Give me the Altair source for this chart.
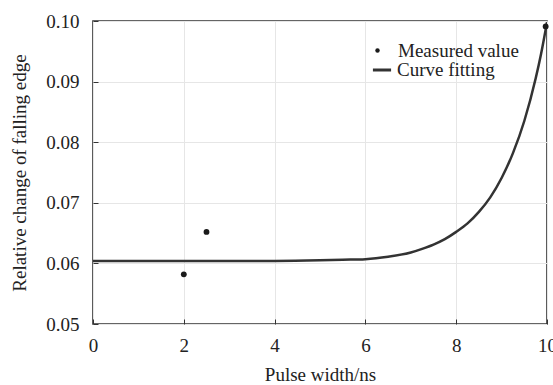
import altair as alt
import pandas as pd

# Measured values
meas_x = [2.0, 2.5, 9.97]
meas_y = [0.0582, 0.0652, 0.0991]

# Fitted curve
fit_x = [0, 1, 2, 3, 4, 5, 5.5, 6, 6.5, 7, 7.25, 7.5, 7.75, 8, 8.25, 8.5, 8.75, 9.0, 9.25, 9.5, 9.75, 9.87, 10]
fit_y = [0.0604, 0.0604, 0.0604, 0.0604, 0.0604, 0.0605, 0.0606, 0.0607, 0.0611, 0.0618, 0.0624, 0.0631,
         0.0640, 0.0652, 0.0666, 0.0685, 0.0709, 0.0741, 0.0782, 0.0835, 0.0905, 0.0946, 0.0998]

x_ticks = [0, 2, 4, 6, 8, 10]
y_ticks = [0.05, 0.06, 0.07, 0.08, 0.09, 0.10]

FONT = "Liberation Serif"
INK = "#222222"

meas = pd.DataFrame({"x": meas_x, "y": meas_y, "s": ["Measured value"] * len(meas_x)})
fit = pd.DataFrame({"x": fit_x, "y": fit_y, "s": ["Curve fitting"] * len(fit_x)})

xscale = alt.Scale(domain=[0, 10], nice=False, zero=False)
yscale = alt.Scale(domain=[0.05, 0.10], nice=False, zero=False)

x_main = alt.X("x:Q", scale=xscale, title="Pulse width/ns",
               axis=alt.Axis(values=x_ticks, format="d", grid=True, gridColor="#e6e6e6", gridWidth=1,
                             offset=-5, tickSize=5, tickColor="#333333", tickWidth=1,
                             domain=False, labelPadding=12, labelFont=FONT, labelFontSize=19,
                             labelColor=INK, titleFont=FONT, titleFontSize=19, titleFontWeight="normal",
                             titleColor=INK, titlePadding=10, labelFlush=False, labelBound=False))
y_main = alt.Y("y:Q", scale=yscale, title="Relative change of falling edge",
               axis=alt.Axis(values=y_ticks, format=".2f", grid=True, gridColor="#e6e6e6", gridWidth=1,
                             offset=-5, tickSize=5, tickColor="#333333", tickWidth=1,
                             domain=False, labelPadding=14, labelFont=FONT, labelFontSize=19,
                             labelColor=INK, titleFont=FONT, titleFontSize=19, titleFontWeight="normal",
                             titleColor=INK, titlePadding=16, labelFlush=False))

curve = alt.Chart(fit).mark_line(strokeWidth=2.5, clip=True, interpolate="monotone").encode(
    x=x_main,
    y=y_main,
    color=alt.Color("s:N", scale=alt.Scale(domain=["Curve fitting"], range=["#333333"]),
                    legend=alt.Legend(title=None, orient="none", legendX=278, legendY=38,
                                      labelFont=FONT, labelFontSize=19, labelColor=INK,
                                      symbolStrokeWidth=3, symbolSize=330, symbolType="stroke",
                                      labelOffset=4, padding=0)),
)

points = alt.Chart(meas).mark_circle(size=34, opacity=1).encode(
    x=alt.X("x:Q", scale=xscale),
    y=alt.Y("y:Q", scale=yscale),
    color=alt.Color("s:N", scale=alt.Scale(domain=["Measured value"], range=["#1a1a1a"]),
                    legend=alt.Legend(title=None, orient="none", legendX=275, legendY=20,
                                      labelFont=FONT, labelFontSize=19, labelColor=INK,
                                      symbolSize=20, symbolType="circle", symbolOpacity=1,
                                      labelOffset=11, padding=0)),
)

chart = alt.layer(curve, points).resolve_scale(
    color="independent"
).properties(
    width=454, height=303,
    autosize=alt.AutoSizeParams(type="none"),
    padding={"left": 93, "top": 21, "right": 6, "bottom": 61},
    background="white",
).configure_view(
    stroke="#333333", strokeWidth=1.6
)

chart.save("out.html", embed_options={"renderer": "svg", "actions": False})
